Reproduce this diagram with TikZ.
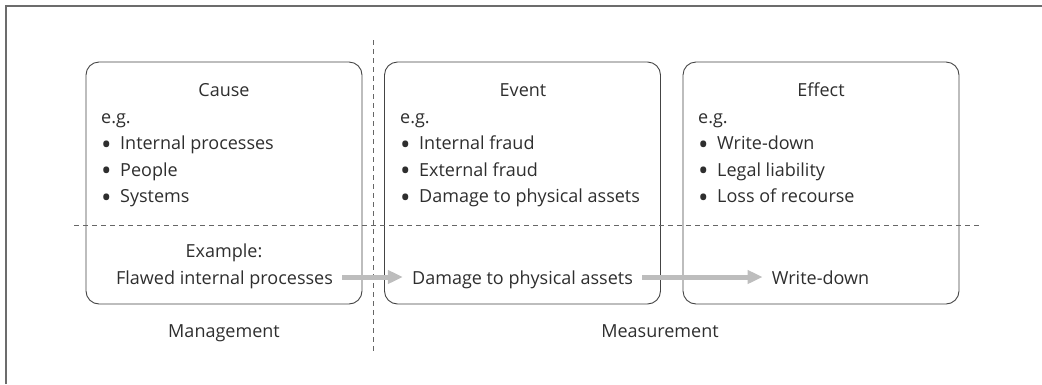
\documentclass[tikz,border=0pt]{standalone}
\usepackage{fontspec}
\setmainfont{Open Sans}
\usetikzlibrary{arrows.meta}
\definecolor{txt}{HTML}{2E2E2E}
\definecolor{boxc}{HTML}{444444}
\definecolor{dashc}{HTML}{666666}
\definecolor{arrc}{HTML}{BDBDBD}
\newcommand\bul{\makebox[19pt][l]{\raisebox{-0.5ex}{\scalebox{1.55}{•}}}}
\begin{document}
\begin{tikzpicture}[x=1pt,y=-1pt,
  every node/.style={text=txt,font=\fontsize{18}{26}\selectfont},
  panel/.style={draw=boxc,line width=0.9pt,rounded corners=13pt,minimum width=276pt,minimum height=242pt,inner sep=0pt},
  title/.style={anchor=base,inner sep=0pt},
  item/.style={anchor=base west,inner sep=0pt},
  ex/.style={anchor=base,inner xsep=9pt,inner ysep=0pt},
  divider/.style={draw=dashc,dashed,dash pattern=on 5pt off 4pt,line width=0.8pt},
  flow/.style={draw=arrc,line width=5pt,-{Triangle[length=15pt,width=13pt]}},
  frame/.style={draw=gray!85!black,line width=1.2pt}]
\useasboundingbox (0,0) rectangle (1042,384);
\draw[frame] (6,384) -- (6,6) -- (1042,6);
% panels
\node[panel] (cause) at (224,183) {};
\node[panel] (event) at (522.5,183) {};
\node[panel] (effect) at (821,183) {};
% dividers
\coordinate (vtop) at (373,40);
\coordinate (vbot) at (373,353);
\coordinate (hl) at (74,225);
\coordinate (hr) at (982,225);
\draw[divider] (vtop) -- (vbot);
\draw[divider] (hl) -- (hr);
% titles
\node[title] (tcause) at (224,96) {Cause};
\node[title] (tevent) at (523,96) {Event};
\node[title] (teffect) at (821,96) {Effect};
% lists
\node[item] (c0) at (101,123) {e.g.};
\node[item] (c1) at (101,149.5) {\bul Internal processes};
\node[item] (c2) at (101,176) {\bul People};
\node[item] (c3) at (101,202.5) {\bul Systems};
\node[item] (e0) at (400,123) {e.g.};
\node[item] (e1) at (400,149.5) {\bul Internal fraud};
\node[item] (e2) at (400,176) {\bul External fraud};
\node[item] (e3) at (400,202.5) {\bul Damage to physical assets};
\node[item] (f0) at (698,123) {e.g.};
\node[item] (f1) at (698,149.5) {\bul Write-down};
\node[item] (f2) at (698,176) {\bul Legal liability};
\node[item] (f3) at (698,202.5) {\bul Loss of recourse};
% example
\node[title] (exlabel) at (224,257) {Example:};
\node[ex] (flawed) at (224.5,284) {Flawed internal processes};
\node[ex] (damage) at (522.5,284) {Damage to physical assets};
\node[ex] (write) at (820.5,284) {Write-down};
\draw[flow] (flawed.east |- 0,277) -- (damage.west |- 0,277);
\draw[flow] (damage.east |- 0,277) -- (write.west |- 0,277);
% bottom labels
\node[title] (mgmt) at (224,337) {Management};
\node[title] (meas) at (660,337) {Measurement};
\end{tikzpicture}
\end{document}
